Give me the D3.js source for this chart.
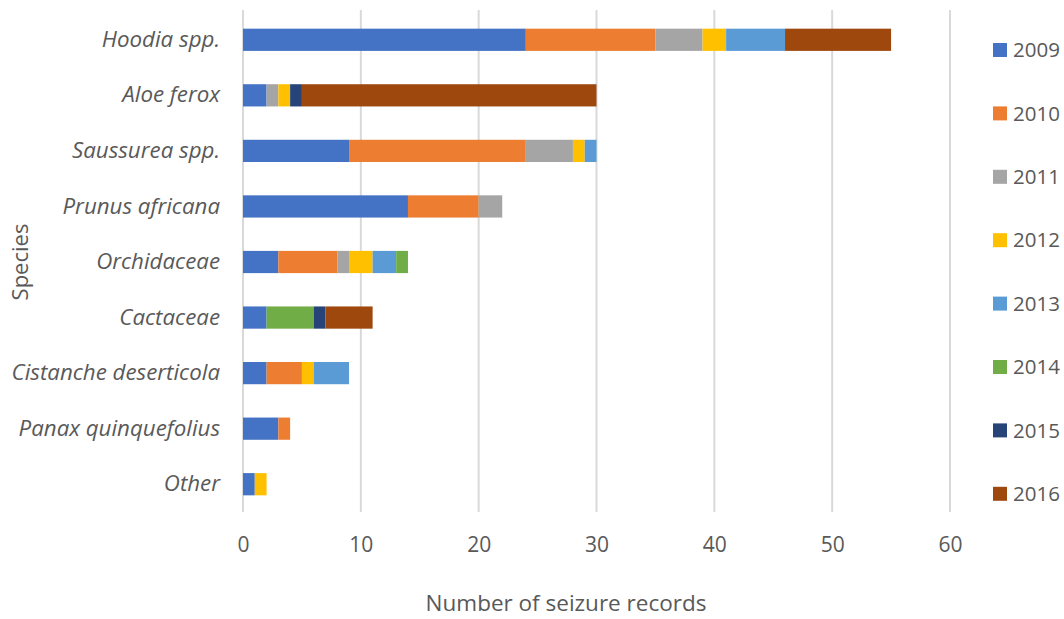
<!DOCTYPE html>
<html><head><meta charset="utf-8">
<script src="https://cdn.jsdelivr.net/npm/d3@7"></script>
<style>body{margin:0;background:#fff;} svg{display:block;font-family:"Open Sans","Liberation Sans",sans-serif;}</style>
</head><body>
<svg id="c" width="1064" height="619"></svg>
<script>
const species = ["Hoodia spp.","Aloe ferox","Saussurea spp.","Prunus africana","Orchidaceae","Cactaceae","Cistanche deserticola","Panax quinquefolius","Other"];
const years = ["2009","2010","2011","2012","2013","2014","2015","2016"];
const colors = ["#4472c4","#ed7d31","#a5a5a5","#ffc000","#5b9bd5","#70ad47","#264478","#9e480e"];
const v2009 = [24,2,9,14,3,2,2,3,1];
const v2010 = [11,0,15,6,5,0,3,1,0];
const v2011 = [4,1,4,2,1,0,0,0,0];
const v2012 = [2,1,1,0,2,0,1,0,1];
const v2013 = [5,0,1,0,2,0,3,0,0];
const v2014 = [0,0,0,0,1,4,0,0,0];
const v2015 = [0,1,0,0,0,1,0,0,0];
const v2016 = [9,25,0,0,0,4,0,0,0];
const xTicks = [0,10,20,30,40,50,60];
const series = [v2009,v2010,v2011,v2012,v2013,v2014,v2015,v2016];

const rows = species.map((s,i)=>{const o={species:s}; years.forEach((y,j)=>o[y]=series[j][i]); return o;});
const stack = d3.stack().keys(years)(rows);

const svg = d3.select("#c");
const x = d3.scaleLinear().domain([0,60]).range([243,950]);
const y = d3.scaleBand().domain(species).range([12,512]).paddingInner(0.6).paddingOuter(0.3);
const grey = "#595959";

// gridlines
svg.append("g").selectAll("line").data(xTicks).join("line")
  .attr("x1",d=>x(d)).attr("x2",d=>x(d)).attr("y1",10).attr("y2",512)
  .attr("stroke","#d9d9d9").attr("stroke-width",2);

// bars
svg.append("g").selectAll("g").data(stack).join("g").attr("fill",(d,i)=>colors[i])
  .selectAll("rect").data(d=>d).join("rect")
  .attr("x",d=>x(d[0])).attr("width",d=>x(d[1])-x(d[0]))
  .attr("y",d=>y(d.data.species)).attr("height",y.bandwidth());

// x tick labels
const xa = svg.append("g").attr("transform","translate(0,545)")
  .call(d3.axisBottom(x).tickValues(xTicks).tickSize(0).tickPadding(0));
xa.select(".domain").remove();
xa.selectAll("text").attr("font-size",21).attr("fill",grey).attr("font-family","'Open Sans',sans-serif").attr("dy","0.32em");

// y labels
const ya = svg.append("g").attr("transform","translate(220,0)")
  .call(d3.axisLeft(y).tickSize(0).tickPadding(0));
ya.select(".domain").remove();
ya.selectAll("text").attr("font-size",22.3).attr("font-style","italic").attr("fill",grey).attr("font-family","'Open Sans',sans-serif");

// axis titles
svg.append("text").attr("x",566).attr("y",611).attr("text-anchor","middle")
  .attr("font-size",22.5).attr("fill",grey).text("Number of seizure records");
svg.append("text").attr("transform","translate(28,262) rotate(-90)").attr("text-anchor","middle")
  .attr("font-size",22).attr("fill",grey).text("Species");

// legend
const lg = svg.append("g").selectAll("g").data(years).join("g")
  .attr("transform",(d,i)=>`translate(993,${50+i*63.4})`);
lg.append("rect").attr("x",0).attr("y",-7).attr("width",14).attr("height",14).attr("fill",(d,i)=>colors[i]);
lg.append("text").attr("x",20).attr("dy","0.35em").attr("font-size",20.5).attr("fill",grey).text(d=>d);
</script>
</body></html>
